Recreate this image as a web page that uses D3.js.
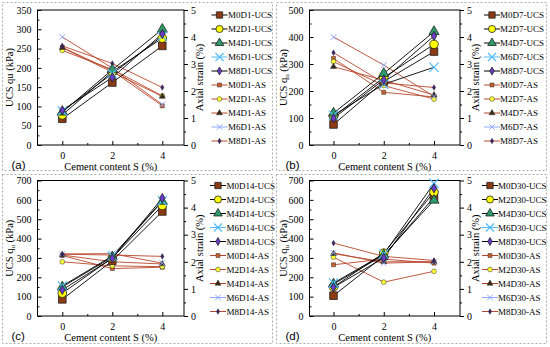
<!DOCTYPE html>
<html><head><meta charset="utf-8">
<script src="https://cdn.jsdelivr.net/npm/d3@7/dist/d3.min.js"></script>
<style>body{margin:0;background:#fff}svg{display:block}</style>
</head><body>
<script>
// ---------- DATA ----------
const cement = [0, 2, 4];
const mixes = ["M0", "M2", "M4", "M6", "M8"];
const panelLabels = ["(a)", "(b)", "(c)", "(d)"];
const curing = ["D1", "D7", "D14", "D30"];
const ucsMax = [350, 500, 700, 700];
const ucsStep = [50, 100, 100, 100];
const strainTicks = [0, 1, 2, 3, 4, 5];
// UCS (kPa) per mix [S=0, S=2, S=4]
const ucsD1  = [[68,162,257],[78,190,277],[85,195,300],[88,185,282],[90,175,288]];
const ucsD7  = [[76,235,346],[105,250,373],[118,265,420],[110,225,288],[99,242,404]];
const ucsD14 = [[86,285,540],[118,300,571],[150,305,592],[155,310,595],[135,298,609]];
const ucsD30 = [[105,310,614],[150,325,640],[165,315,598],[170,320,685],[148,300,660]];
// Axial strain (%) per mix [S=0, S=2, S=4]
const asD1  = [[3.62,2.75,1.45],[3.50,2.80,1.82],[3.60,2.70,1.80],[4.00,2.85,1.50],[3.67,3.02,2.13]];
const asD7  = [[3.21,1.95,1.78],[3.09,2.20,1.70],[2.90,2.40,1.85],[4.00,2.96,1.80],[3.42,2.30,2.13]];
const asD14 = [[2.23,1.75,1.80],[2.00,1.85,1.82],[2.25,2.00,1.92],[2.29,2.30,1.95],[2.28,2.25,2.20]];
const asD30 = [[1.89,2.10,1.95],[2.17,1.25,1.65],[2.30,2.00,2.00],[2.33,1.95,2.00],[2.69,2.20,2.05]];
const ucsData = [ucsD1, ucsD7, ucsD14, ucsD30];
const asData = [asD1, asD7, asD14, asD30];

// ---------- STYLE ----------
const W = 550, H = 347;
const serif = "'Liberation Serif','Times New Roman',serif";
const ucsFill = ["#8B3A12", "#FFFF00", "#2E9B6A", "#66CCFF", "#6A3DC8"];
const asFill  = ["#C8602E", "#FFFF33", "#3A2A1A", "#99BBFF", "#3B1F6E"];
const asLine = "#B8472D";
const symbols = [d3.symbolSquare, d3.symbolCircle, d3.symbolTriangle, d3.symbolTimes, d3.symbolDiamond];
const bigSize = [58, 58, 44, 58, 25];
const smallSize = [16, 18, 16, 22, 9];
const legSize = [40, 40, 32, 44, 18];

const layout = [
  {bx:2.5, by:2.5, bw:270, bh:168, L:37.5, R:184, T:10, B:145, x0:62.3, x4:162.3, mk:219.5, tx:228},
  {bx:276.5, by:2.5, bw:270, bh:168, L:309.5, R:460, T:10, B:145, x0:333.5, x4:434, mk:492, tx:500},
  {bx:2.5, by:174.5, bw:270, bh:169, L:37.5, R:184, T:180.5, B:316, x0:62.3, x4:162.3, mk:218, tx:226.5},
  {bx:276.5, by:174.5, bw:270, bh:169, L:309.5, R:460, T:180.5, B:316, x0:333.5, x4:434, mk:490, tx:498}
];

const svg = d3.select("body").append("svg").attr("width", W).attr("height", H)
  .style("font-family", serif);

function marker(g, k, x, y, size, isUcs) {
  const p = g.append("path")
    .attr("d", d3.symbol().type(symbols[k]).size(size)())
    .attr("transform", `translate(${x},${y})`);
  if (k === 3) {
    p.attr("fill", "none").attr("stroke", isUcs ? "#55BBFF" : "#8FA8FF").attr("stroke-width", isUcs ? 1.2 : 1);
  } else {
    p.attr("fill", isUcs ? ucsFill[k] : asFill[k]).attr("stroke", isUcs ? "#222" : "#333").attr("stroke-width", isUcs ? 0.8 : 0.5);
  }
}

const fmt = d3.format("d");

layout.forEach((lp, pi) => {
  const g = svg.append("g");
  g.append("rect").attr("x", lp.bx).attr("y", lp.by).attr("width", lp.bw).attr("height", lp.bh)
    .attr("fill", "none").attr("stroke", "#999").attr("stroke-dasharray", "2,2").attr("stroke-width", 0.8);

  const x = d3.scaleLinear().domain([0, 4]).range([lp.x0, lp.x4]);
  const yL = d3.scaleLinear().domain([0, ucsMax[pi]]).range([lp.B, lp.T]);
  const yR = d3.scaleLinear().domain([0, 5]).range([lp.B, lp.T]);

  g.append("rect").attr("x", lp.L).attr("y", lp.T).attr("width", lp.R - lp.L).attr("height", lp.B - lp.T)
    .attr("fill", "none").attr("stroke", "#000").attr("stroke-width", 1);

  // left axis (ticks inward)
  const lt = d3.range(0, ucsMax[pi] + 1, ucsStep[pi]);
  const axL = g.append("g").attr("transform", `translate(${lp.L},0)`)
    .call(d3.axisLeft(yL).tickValues(lt).tickFormat(fmt).tickSize(-4).tickPadding(6).tickSizeOuter(0));
  axL.select(".domain").remove();
  axL.selectAll("text").attr("font-family", serif).attr("font-size", 10).attr("fill", "#000");
  g.append("g").attr("transform", `translate(${lp.L},0)`)
    .call(d3.axisLeft(yL).tickValues(d3.range(ucsStep[pi] / 2, ucsMax[pi], ucsStep[pi])).tickSize(-2).tickFormat("").tickSizeOuter(0))
    .select(".domain").remove();

  // right axis (ticks outward)
  const axR = g.append("g").attr("transform", `translate(${lp.R},0)`)
    .call(d3.axisRight(yR).tickValues(strainTicks).tickFormat(fmt).tickSize(4).tickPadding(3).tickSizeOuter(0));
  axR.select(".domain").remove();
  axR.selectAll("text").attr("font-family", serif).attr("font-size", 10).attr("fill", "#000");
  g.append("g").attr("transform", `translate(${lp.R},0)`)
    .call(d3.axisRight(yR).tickValues(d3.range(0.5, 5, 1)).tickSize(2).tickFormat("").tickSizeOuter(0))
    .select(".domain").remove();

  // bottom axis
  const axB = g.append("g").attr("transform", `translate(0,${lp.B})`)
    .call(d3.axisBottom(x).tickValues(cement).tickFormat(fmt).tickSize(-4).tickPadding(7).tickSizeOuter(0));
  axB.select(".domain").remove();
  axB.selectAll("text").attr("font-family", serif).attr("font-size", 10).attr("fill", "#000");
  g.append("g").attr("transform", `translate(0,${lp.B})`)
    .call(d3.axisBottom(x).tickValues([1, 3]).tickSize(-2).tickFormat("").tickSizeOuter(0))
    .select(".domain").remove();

  // axis titles
  const yt = g.append("text").attr("transform", `translate(${lp.bx + 10.5},${(lp.T + lp.B) / 2}) rotate(-90)`)
    .attr("text-anchor", "middle").attr("font-size", 10.5);
  if (pi === 0) { yt.text("UCS qu (kPa)"); }
  else {
    yt.append("tspan").text("UCS q");
    yt.append("tspan").attr("font-size", 7).attr("dy", 2).text("u");
    yt.append("tspan").attr("dy", -2).text(" (kPa)");
  }
  g.append("text").attr("transform", `translate(${lp.R + 19},${(lp.T + lp.B) / 2}) rotate(-90)`)
    .attr("text-anchor", "middle").attr("font-size", 10.5).text("Axial strain (%)");
  g.append("text").attr("x", (lp.L + lp.R) / 2).attr("y", lp.B + 25)
    .attr("text-anchor", "middle").attr("font-size", 10.5).text("Cement content S (%)");
  g.append("text").attr("x", lp.bx + 9).attr("y", lp.B + 24).attr("font-family", "'Liberation Sans',Arial,sans-serif")
    .attr("font-size", 11.5).text(panelLabels[pi]);

  // data
  const lineUcs = d3.line().x((d, i) => x(cement[i])).y(d => yL(d));
  const lineAs = d3.line().x((d, i) => x(cement[i])).y(d => yR(d));
  asData[pi].forEach(vals => {
    g.append("path").attr("d", lineAs(vals)).attr("fill", "none").attr("stroke", asLine).attr("stroke-width", 0.9);
  });
  ucsData[pi].forEach(vals => {
    g.append("path").attr("d", lineUcs(vals)).attr("fill", "none").attr("stroke", "#000").attr("stroke-width", 0.9);
  });
  asData[pi].forEach((vals, k) => vals.forEach((v, i) => marker(g, k, x(cement[i]), yR(v), smallSize[k], false)));
  ucsData[pi].forEach((vals, k) => vals.forEach((v, i) => marker(g, k, x(cement[i]), yL(v), bigSize[k], true)));

  // legend
  const ly0 = lp.T + 5, dy = 14;
  const names = mixes.map(m => m + curing[pi] + "-UCS").concat(mixes.map(m => m + curing[pi] + "-AS"));
  names.forEach((nm, j) => {
    const yy = ly0 + j * dy;
    const isUcs = j < 5, k = j % 5;
    g.append("line").attr("x1", lp.mk - 8).attr("x2", lp.mk + 8).attr("y1", yy).attr("y2", yy)
      .attr("stroke", isUcs ? (k === 3 ? "#55BBFF" : "#000") : (k === 3 ? "#8FA8FF" : asLine)).attr("stroke-width", 1);
    marker(g, k, lp.mk, yy, isUcs ? legSize[k] : smallSize[k], isUcs);
    g.append("text").attr("x", lp.tx).attr("y", yy + 3.2).attr("font-size", 9).text(nm);
  });
});
</script>
</body></html>
